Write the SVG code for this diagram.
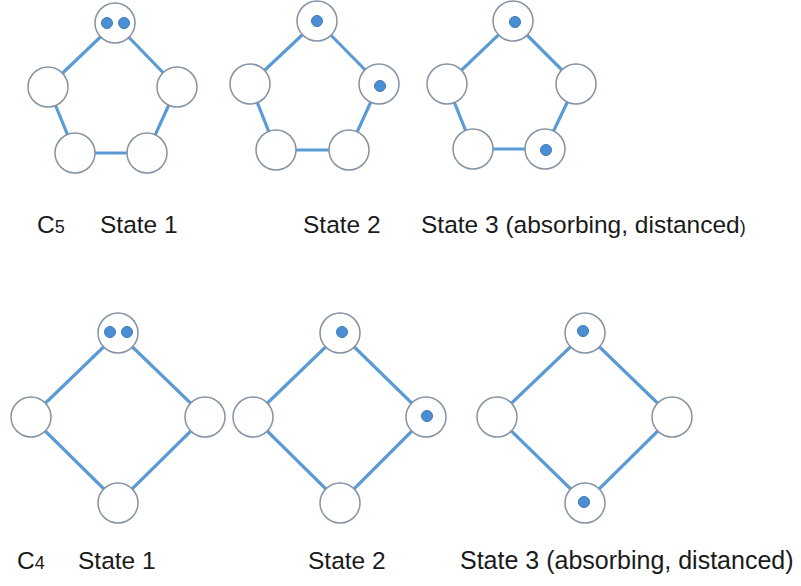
<svg xmlns="http://www.w3.org/2000/svg" width="801" height="586" viewBox="0 0 801 586">
<style>
.e{stroke:#5b9bd5;stroke-width:3.2;fill:none}
.n{fill:#fff;stroke:#8592a3;stroke-width:1.5}
.d{fill:#4a8fd6;stroke:#3f78b0;stroke-width:1}
.t{font-family:"Liberation Sans",Arial,sans-serif;font-size:24.5px;fill:#1a1a1a}
.t2{font-size:25px}
.s{font-size:18px}
</style>
<rect width="801" height="586" fill="#fff"/>
<g id="connectors">
<polygon class="e" points="115,23 177,87 147,153 75,153 48,87"/>
<polygon class="e" points="317,21 379,84 349,150 276,150 250,84"/>
<polygon class="e" points="513,21 576,84 545,149 473,149 447,84"/>
<polygon class="e" points="118,333 205,417 118,503 31,417"/>
<polygon class="e" points="340,333 426,417 340,503 253,417"/>
<polygon class="e" points="585,333 672,417 585,503 497,417"/>
</g>
<g id="c5s1">
<g id="c5s1-top"><circle class="n" cx="115" cy="23" r="20"/><circle class="d" cx="107" cy="23" r="5.5"/><circle class="d" cx="124" cy="23" r="5.5"/></g>
<g id="c5s1-r"><circle class="n" cx="177" cy="87" r="20"/></g>
<g id="c5s1-br"><circle class="n" cx="147" cy="153" r="20"/></g>
<g id="c5s1-bl"><circle class="n" cx="75" cy="153" r="20"/></g>
<g id="c5s1-l"><circle class="n" cx="48" cy="87" r="20"/></g>
</g>
<g id="c5s2">
<g id="c5s2-top"><circle class="n" cx="317" cy="21" r="20"/><circle class="d" cx="317" cy="21" r="5.5"/></g>
<g id="c5s2-r"><circle class="n" cx="379" cy="84" r="20"/><circle class="d" cx="380" cy="86" r="5.5"/></g>
<g id="c5s2-br"><circle class="n" cx="349" cy="150" r="20"/></g>
<g id="c5s2-bl"><circle class="n" cx="276" cy="150" r="20"/></g>
<g id="c5s2-l"><circle class="n" cx="250" cy="84" r="20"/></g>
</g>
<g id="c5s3">
<g id="c5s3-top"><circle class="n" cx="513" cy="21" r="20"/><circle class="d" cx="515" cy="22" r="5.5"/></g>
<g id="c5s3-r"><circle class="n" cx="576" cy="84" r="20"/></g>
<g id="c5s3-br"><circle class="n" cx="545" cy="149" r="20"/><circle class="d" cx="546" cy="150" r="5.5"/></g>
<g id="c5s3-bl"><circle class="n" cx="473" cy="149" r="20"/></g>
<g id="c5s3-l"><circle class="n" cx="447" cy="84" r="20"/></g>
</g>
<g id="c4s1">
<g id="c4s1-top"><circle class="n" cx="118" cy="333" r="20"/><circle class="d" cx="110" cy="332" r="5.5"/><circle class="d" cx="127" cy="332" r="5.5"/></g>
<g id="c4s1-r"><circle class="n" cx="205" cy="417" r="20"/></g>
<g id="c4s1-b"><circle class="n" cx="118" cy="503" r="20"/></g>
<g id="c4s1-l"><circle class="n" cx="31" cy="417" r="20"/></g>
</g>
<g id="c4s2">
<g id="c4s2-top"><circle class="n" cx="340" cy="333" r="20"/><circle class="d" cx="342" cy="332" r="5.5"/></g>
<g id="c4s2-r"><circle class="n" cx="426" cy="417" r="20"/><circle class="d" cx="427" cy="416" r="5.5"/></g>
<g id="c4s2-b"><circle class="n" cx="340" cy="503" r="20"/></g>
<g id="c4s2-l"><circle class="n" cx="253" cy="417" r="20"/></g>
</g>
<g id="c4s3">
<g id="c4s3-top"><circle class="n" cx="585" cy="333" r="20"/><circle class="d" cx="583" cy="331" r="5.5"/></g>
<g id="c4s3-r"><circle class="n" cx="672" cy="417" r="20"/></g>
<g id="c4s3-b"><circle class="n" cx="585" cy="503" r="20"/><circle class="d" cx="584" cy="502" r="5.5"/></g>
<g id="c4s3-l"><circle class="n" cx="497" cy="417" r="20"/></g>
</g>
<g id="labels">
<text class="t" x="37" y="233">C<tspan class="s">5</tspan></text>
<text class="t" x="100" y="233">State 1</text>
<text class="t" x="303" y="233">State 2</text>
<text class="t" x="421" y="233">State 3 (absorbing, distanced<tspan class="s">)</tspan></text>
<text class="t" x="17" y="569">C<tspan class="s">4</tspan></text>
<text class="t" x="78" y="569">State 1</text>
<text class="t" x="308" y="569">State 2</text>
<text class="t t2" x="460" y="569">State 3 (absorbing, distanced)</text>
</g>
</svg>
